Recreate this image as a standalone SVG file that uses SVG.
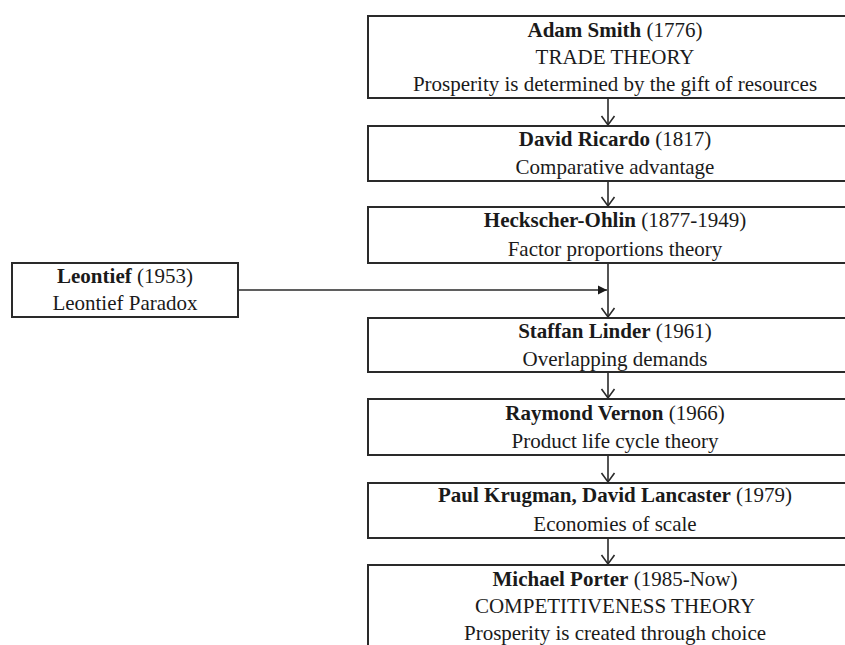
<svg xmlns="http://www.w3.org/2000/svg" width="845" height="645" viewBox="0 0 845 645">
<style>
.box{fill:#fff;stroke:#2a2a2a;stroke-width:2}
text{font-family:"Liberation Serif","Times New Roman",serif;font-size:21px;fill:#1a1a1a;text-anchor:middle}
.b{font-weight:bold}
.con{stroke:#2a2a2a;stroke-width:1.6;fill:none}
</style>
<defs>
<marker id="open" viewBox="-11 -8 13 16" refX="0" refY="0" markerWidth="13" markerHeight="16" markerUnits="userSpaceOnUse" orient="auto">
<path d="M-9,-6.5 L0,0 L-9,6.5" fill="none" stroke="#2a2a2a" stroke-width="1.6"/>
</marker>
<marker id="solid" viewBox="-10 -6 11 12" refX="0" refY="0" markerWidth="11" markerHeight="12" markerUnits="userSpaceOnUse" orient="auto">
<path d="M-9,-4.5 L0,0 L-9,4.5 Z" fill="#1a1a1a"/>
</marker>
</defs>
<rect width="845" height="645" fill="#fff"/>
<g id="connectors">
<line class="con" x1="608" y1="98" x2="608" y2="125" marker-end="url(#open)"/>
<line class="con" x1="608" y1="181" x2="608" y2="206" marker-end="url(#open)"/>
<line class="con" x1="608" y1="263" x2="608" y2="317" marker-end="url(#open)"/>
<line class="con" x1="608" y1="372" x2="608" y2="398" marker-end="url(#open)"/>
<line class="con" x1="608" y1="455" x2="608" y2="482" marker-end="url(#open)"/>
<line class="con" x1="608" y1="538" x2="608" y2="564" marker-end="url(#open)"/>
<line class="con" x1="238" y1="290" x2="607" y2="290" marker-end="url(#solid)"/>
</g>
<g id="smith">
<rect class="box" x="368" y="16" width="496" height="82"/>
<text x="615" y="37"><tspan class="b">Adam Smith</tspan> (1776)</text>
<text x="615" y="64">TRADE THEORY</text>
<text x="615" y="91">Prosperity is determined by the gift of resources</text>
</g>
<g id="ricardo">
<rect class="box" x="368" y="126" width="496" height="55"/>
<text x="615" y="146"><tspan class="b">David Ricardo</tspan> (1817)</text>
<text x="615" y="174">Comparative advantage</text>
</g>
<g id="heckscher">
<rect class="box" x="368" y="207" width="496" height="56"/>
<text x="615" y="227"><tspan class="b">Heckscher-Ohlin</tspan> (1877-1949)</text>
<text x="615" y="256">Factor proportions theory</text>
</g>
<g id="leontief">
<rect class="box" x="12" y="263" width="226" height="54"/>
<text x="125" y="283"><tspan class="b">Leontief</tspan> (1953)</text>
<text x="125" y="310">Leontief Paradox</text>
</g>
<g id="linder">
<rect class="box" x="368" y="318" width="496" height="54"/>
<text x="615" y="338"><tspan class="b">Staffan Linder</tspan> (1961)</text>
<text x="615" y="366">Overlapping demands</text>
</g>
<g id="vernon">
<rect class="box" x="368" y="399" width="496" height="56"/>
<text x="615" y="420"><tspan class="b">Raymond Vernon</tspan> (1966)</text>
<text x="615" y="448">Product life cycle theory</text>
</g>
<g id="krugman">
<rect class="box" x="368" y="483" width="496" height="55"/>
<text x="615" y="502"><tspan class="b">Paul Krugman, David Lancaster</tspan> (1979)</text>
<text x="615" y="531">Economies of scale</text>
</g>
<g id="porter">
<rect class="box" x="368" y="565" width="496" height="100"/>
<text x="615" y="586"><tspan class="b">Michael Porter</tspan> (1985-Now)</text>
<text x="615" y="613">COMPETITIVENESS THEORY</text>
<text x="615" y="640">Prosperity is created through choice</text>
</g>
</svg>
